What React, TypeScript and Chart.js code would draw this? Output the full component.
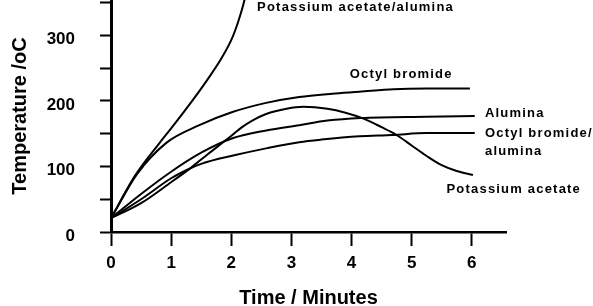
import React, { useEffect, useRef } from "react";
import { Chart, registerables } from "chart.js";

Chart.register(...registerables);

// Potassium acetate/alumina
const paaX = [0, 0.4, 0.8, 1.0, 1.35, 1.63, 1.85, 2.02, 2.13, 2.22, 2.3];
const paaY = [21, 86, 135, 158, 200, 236, 267, 297, 325, 354, 390];
// Octyl bromide
const obX = [0, 0.43, 0.92, 1.47, 2.02, 2.58, 3.13, 3.68, 4.13, 4.7, 5.25, 5.97];
const obY = [21, 88, 136, 163, 183, 197, 206, 211, 214, 218, 219, 219];
// Alumina
const alX = [0, 0.5, 1.0, 1.5, 2.02, 2.58, 3.13, 3.6, 4.15, 5.25, 6.05];
const alY = [21, 58, 92, 121, 143, 155, 163, 170, 174, 176, 177];
// Octyl bromide/alumina
const obaX = [0, 0.5, 1.0, 1.27, 1.5, 2.05, 2.6, 3.13, 3.5, 4.13, 4.68, 5.25, 6.05];
const obaY = [21, 50, 82, 95, 104, 117, 128, 137, 141, 146, 148, 151, 151];
// Potassium acetate
const paX = [0, 0.5, 1.0, 1.3, 1.6, 1.95, 2.18, 2.35, 2.58, 2.92, 3.2, 3.6, 3.9, 4.2, 4.5, 4.75, 5.0, 5.25, 5.5, 5.75, 6.02];
const paY = [21, 44, 76, 96, 118, 143, 160, 170, 180, 188, 191, 188, 182, 173, 160, 148, 132, 116, 102, 93, 87];

const xTickValues = [0, 1, 2, 3, 4, 5, 6];
const yLabelValues = [0, 100, 200, 300];

// curve labels, anchored in data units (left / baseline)
const curveLabels = [
  { text: "Potassium acetate/alumina", x: 2.43, y: 337 },
  { text: "Octyl bromide", x: 3.97, y: 235 },
  { text: "Alumina", x: 6.22, y: 175 },
  { text: "Octyl bromide/", x: 6.22, y: 145 },
  { text: "alumina", x: 6.22, y: 117 },
  { text: "Potassium acetate", x: 5.58, y: 59.5 },
];

const FAMILY = '"Liberation Sans", Arial, Helvetica, sans-serif';

const toPoints = (xs: number[], ys: number[]) => xs.map((x, i) => ({ x, y: ys[i] }));

const labelPlugin = {
  id: "curveLabels",
  afterDatasetsDraw(chart: any) {
    const { ctx, scales } = chart;
    ctx.save();
    ctx.font = `bold 13px ${FAMILY}`;
    (ctx as any).letterSpacing = "1.2px";
    ctx.fillStyle = "#000";
    ctx.textAlign = "left";
    ctx.textBaseline = "alphabetic";
    curveLabels.forEach((l) => {
      ctx.fillText(l.text, scales.x.getPixelForValue(l.x), scales.y.getPixelForValue(l.y));
    });
    ctx.restore();
  },
};

export default function App() {
  const ref = useRef<HTMLCanvasElement | null>(null);
  useEffect(() => {
    if (!ref.current) return;
    const ds = (xs: number[], ys: number[]) => ({
      data: toPoints(xs, ys),
      borderColor: "#000",
      borderWidth: 2,
      pointRadius: 0,
      cubicInterpolationMode: "monotone" as const,
      fill: false,
    });
    const chart = new Chart(ref.current, {
      type: "line",
      data: {
        datasets: [ds(paaX, paaY), ds(obX, obY), ds(alX, alY), ds(obaX, obaY), ds(paX, paY)],
      },
      options: {
        animation: false,
        responsive: true,
        maintainAspectRatio: false,
        layout: { padding: { left: 0, right: 87, top: 0, bottom: 0 } },
        plugins: { legend: { display: false }, tooltip: { enabled: false } },
        scales: {
          x: {
            type: "linear",
            min: 0,
            max: 6.57,
            grid: { drawOnChartArea: false, drawTicks: true, tickLength: 14, tickWidth: 2, color: "#000" },
            border: { display: true, color: "#000", width: 2.5 },
            ticks: {
              stepSize: 1,
              includeBounds: false,
              autoSkip: false,
              maxRotation: 0,
              color: "#000",
              padding: 7,
              font: { family: FAMILY, size: 17, weight: "bold" },
              callback: (v: any) => (xTickValues.includes(Number(v)) ? String(v) : ""),
            },
            title: {
              display: true,
              text: "Time / Minutes",
              color: "#000",
              padding: 0,
              font: { family: FAMILY, size: 20, weight: "bold", lineHeight: 0.8 },
            },
            afterFit(s: any) {
              s.height = 74;
              s.paddingLeft = 0;
              s.paddingRight = 0;
            },
          },
          y: {
            type: "linear",
            min: 0,
            max: 354,
            grid: { drawOnChartArea: false, drawTicks: true, tickLength: 11, tickWidth: 2, color: "#000" },
            border: { display: true, color: "#000", width: 3 },
            ticks: {
              stepSize: 50,
              includeBounds: false,
              autoSkip: false,
              color: "#000",
              padding: 25,
              labelOffset: 4,
              font: { family: FAMILY, size: 17, weight: "bold" },
              callback: (v: any) => (yLabelValues.includes(Number(v)) ? String(v) : ""),
            },
            title: {
              display: true,
              text: "Temperature /oC",
              color: "#000",
              padding: { top: 8, bottom: 0 },
              font: { family: FAMILY, size: 20, weight: "bold" },
            },
            afterFit(s: any) {
              s.width = 111;
              s.paddingTop = 0;
              s.paddingBottom = 0;
            },
          },
        },
      },
      plugins: [labelPlugin],
    });
    return () => chart.destroy();
  }, []);
  return (
    <div style={{ position: "fixed", left: 0, top: 0, width: 593, height: 306, background: "#fff" }}>
      <canvas ref={ref} />
    </div>
  );
}
